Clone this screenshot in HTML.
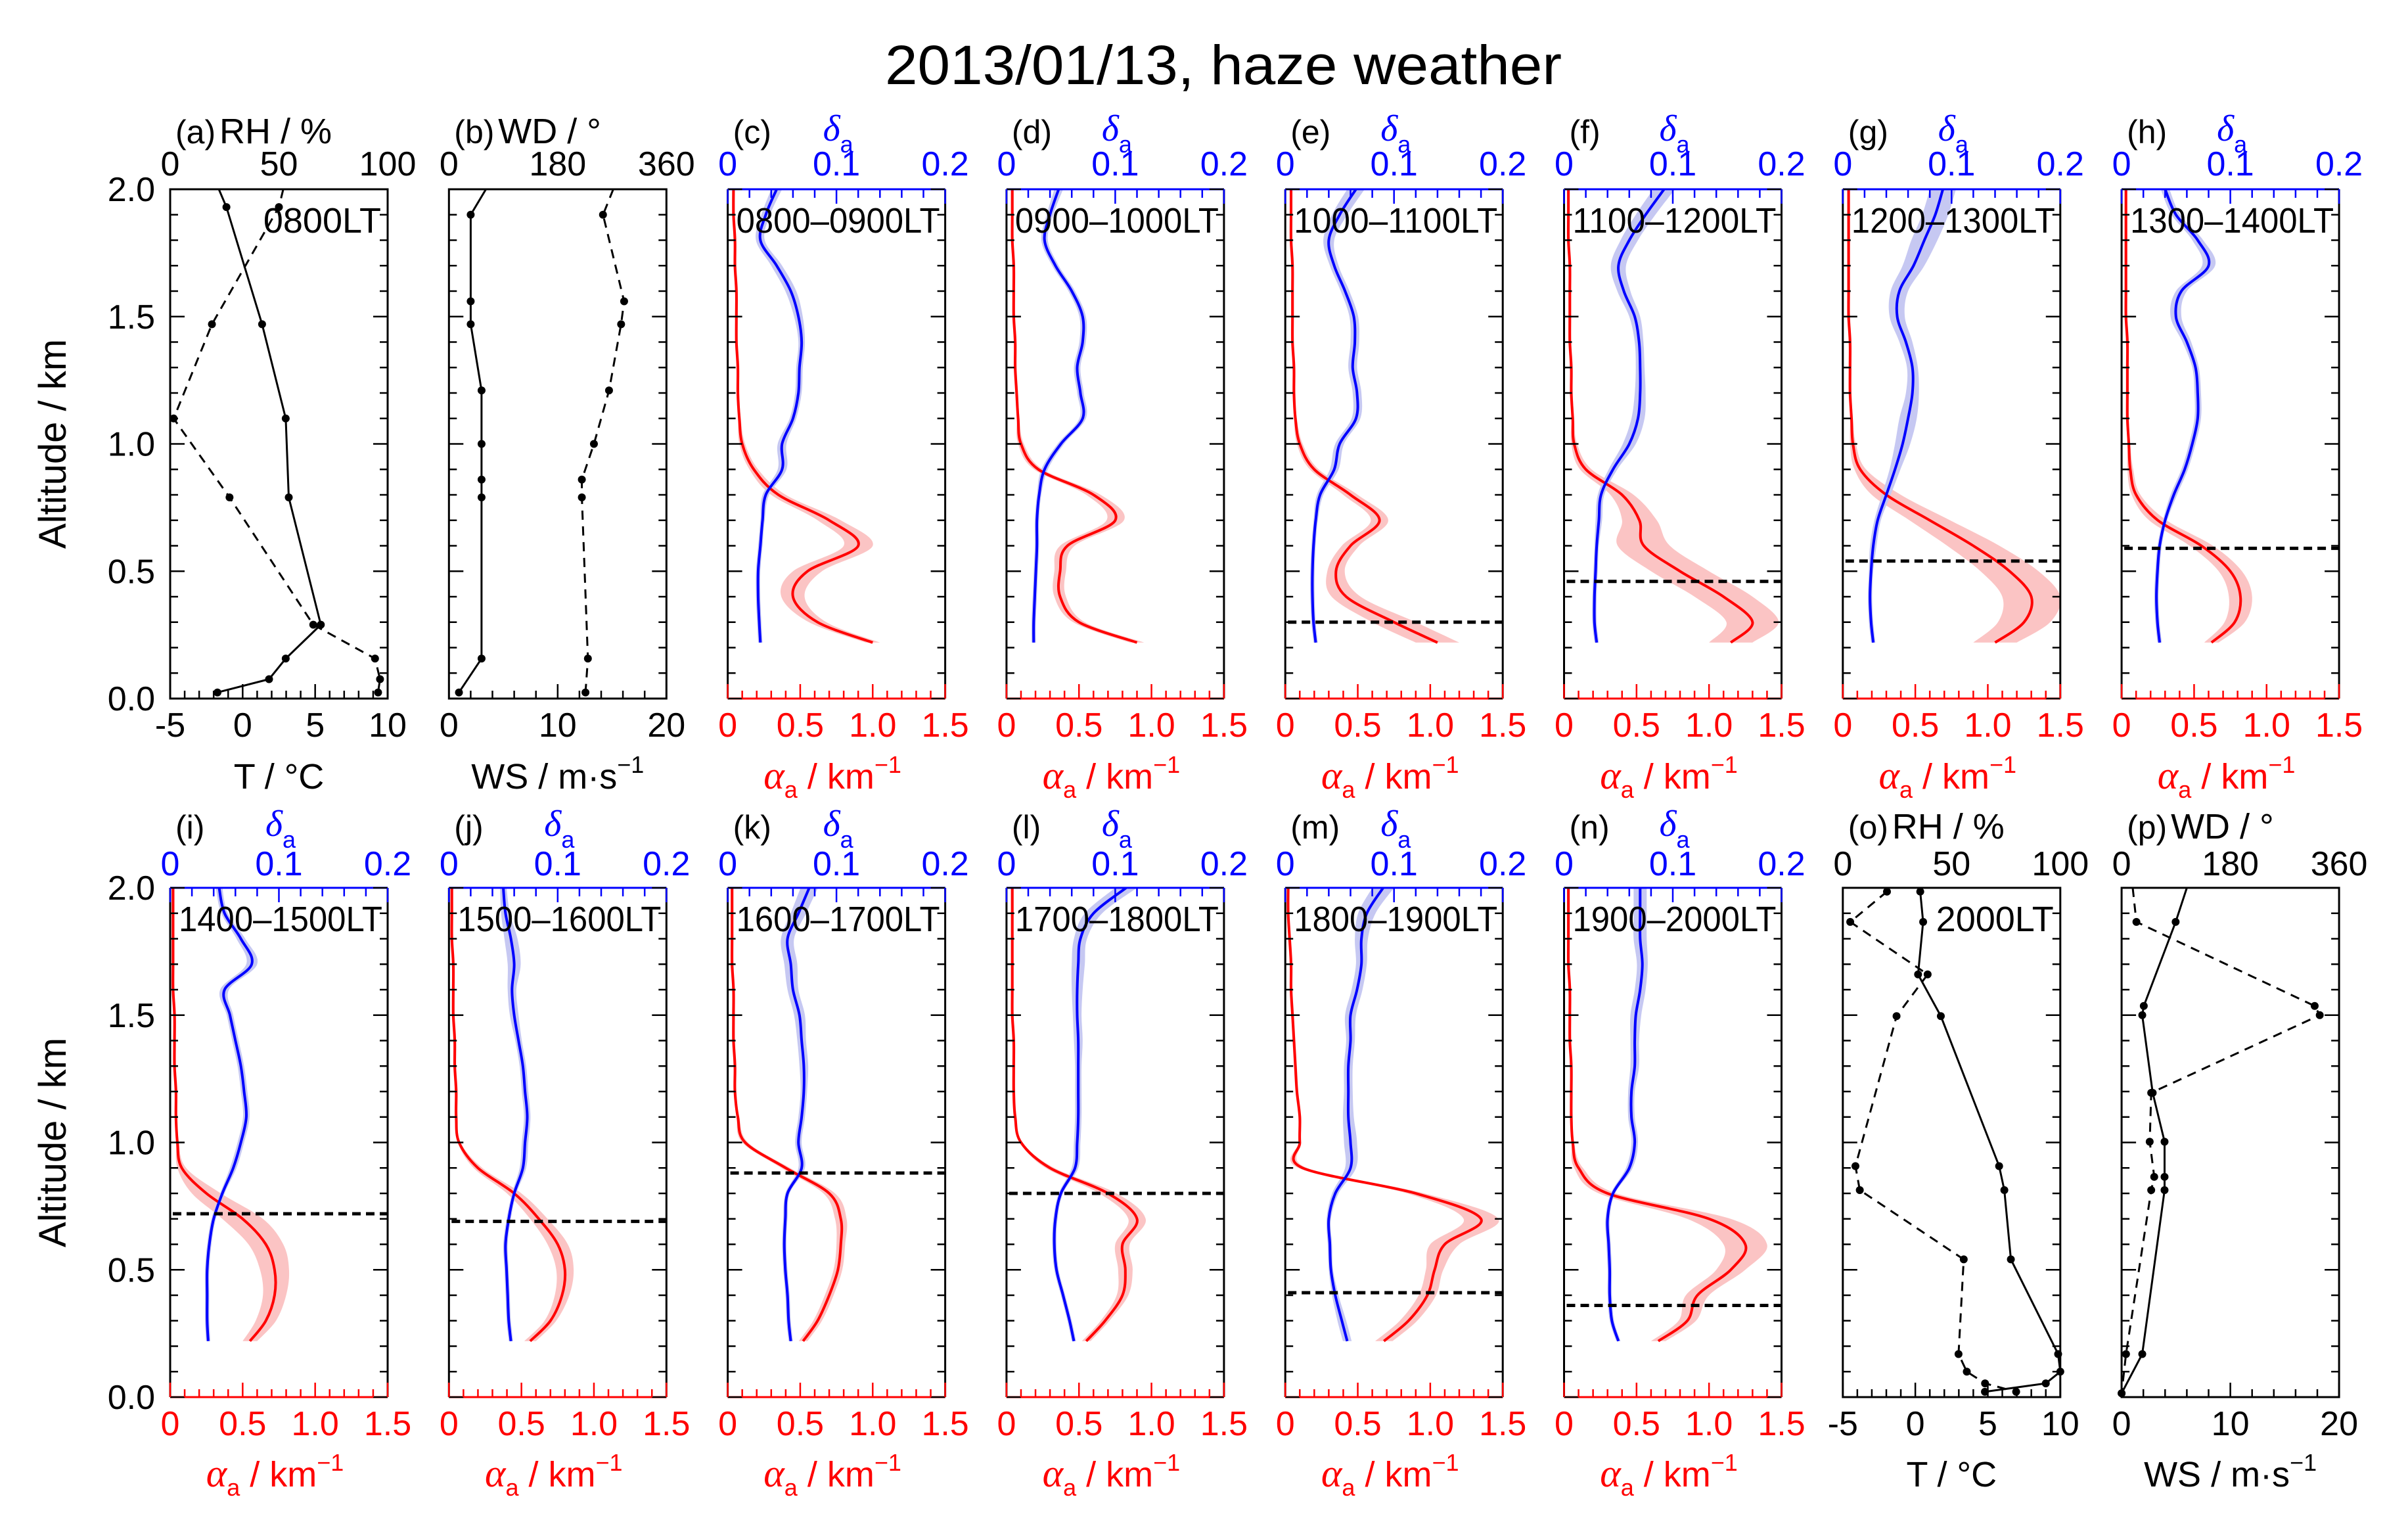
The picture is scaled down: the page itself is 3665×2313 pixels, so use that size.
<!DOCTYPE html>
<html><head><meta charset="utf-8"><style>
html,body{margin:0;padding:0;background:#fff;}
svg{display:block;font-family:"Liberation Sans",sans-serif;}
</style></head><body>
<svg id="fig" xmlns="http://www.w3.org/2000/svg" width="3665" height="2313" viewBox="0 0 3665 2313">
<text x="1862" y="128" font-size="84" text-anchor="middle" textLength="1030" lengthAdjust="spacingAndGlyphs">2013/01/13, haze weather</text>
</svg>
<script>
// ---------- data ----------
const ALT = [0.22,0.3,0.4,0.5,0.6,0.7,0.8,0.9,1.0,1.1,1.2,1.3,1.4,1.5,1.6,1.7,1.8,1.9,2.0];
const panelLetters = ['c','d','e','f','g','h','i','j','k','l','m','n'];
const panelTimes = ['0800–0900LT','0900–1000LT','1000–1100LT','1100–1200LT','1200–1300LT','1300–1400LT','1400–1500LT','1500–1600LT','1600–1700LT','1700–1800LT','1800–1900LT','1900–2000LT'];
const pblHeights = [null,null,0.30,0.46,0.54,0.59,0.72,0.69,0.88,0.80,0.41,0.36];

const alphaC = [1.0,0.62,0.45,0.55,0.9,0.7,0.35,0.18,0.1,0.08,0.07,0.07,0.06,0.06,0.06,0.05,0.05,0.04,0.04];
const alphaD = [0.9,0.5,0.37,0.37,0.42,0.75,0.6,0.22,0.1,0.08,0.07,0.06,0.06,0.05,0.05,0.05,0.04,0.04,0.04];
const alphaE = [1.05,0.75,0.42,0.35,0.45,0.65,0.45,0.2,0.1,0.07,0.06,0.06,0.05,0.05,0.05,0.05,0.04,0.04,0.04];
const alphaF = [1.15,1.3,1.1,0.8,0.55,0.52,0.4,0.15,0.07,0.06,0.05,0.05,0.04,0.04,0.04,0.04,0.03,0.03,0.03];
const alphaG = [1.05,1.25,1.3,1.15,0.9,0.6,0.3,0.12,0.07,0.06,0.05,0.05,0.05,0.04,0.04,0.04,0.04,0.04,0.04];
const alphaH = [0.62,0.78,0.82,0.75,0.55,0.25,0.1,0.06,0.05,0.04,0.04,0.04,0.04,0.03,0.03,0.03,0.03,0.03,0.03];
const alphaI = [0.55,0.66,0.72,0.72,0.66,0.5,0.25,0.08,0.05,0.04,0.04,0.03,0.03,0.03,0.02,0.02,0.02,0.02,0.02];
const alphaJ = [0.56,0.7,0.78,0.8,0.75,0.62,0.45,0.2,0.07,0.05,0.05,0.04,0.04,0.03,0.03,0.03,0.02,0.02,0.02];
const alphaK = [0.52,0.62,0.7,0.76,0.78,0.78,0.7,0.4,0.12,0.07,0.05,0.05,0.04,0.04,0.04,0.03,0.03,0.03,0.03];
const alphaL = [0.55,0.68,0.8,0.82,0.8,0.9,0.7,0.3,0.1,0.06,0.05,0.05,0.05,0.04,0.04,0.04,0.04,0.04,0.04];
const alphaM = [0.68,0.85,0.98,1.03,1.1,1.35,0.9,0.12,0.1,0.1,0.08,0.07,0.06,0.05,0.04,0.04,0.03,0.02,0.02];
const alphaN = [0.65,0.85,0.92,1.15,1.25,1.0,0.3,0.1,0.06,0.05,0.05,0.05,0.04,0.04,0.04,0.03,0.03,0.03,0.03];

const deltaC = [0.03,0.029,0.028,0.028,0.03,0.032,0.035,0.05,0.05,0.06,0.065,0.066,0.068,0.065,0.058,0.045,0.03,0.035,0.045];
const deltaD = [0.025,0.025,0.026,0.027,0.028,0.028,0.03,0.035,0.05,0.07,0.068,0.065,0.07,0.07,0.06,0.045,0.035,0.04,0.048];
const deltaE = [0.028,0.026,0.025,0.025,0.026,0.028,0.032,0.045,0.05,0.065,0.066,0.062,0.064,0.063,0.055,0.045,0.04,0.05,0.065];
const deltaF = [0.03,0.028,0.028,0.029,0.03,0.032,0.034,0.045,0.06,0.068,0.07,0.07,0.069,0.065,0.055,0.05,0.06,0.075,0.092];
const deltaG = [0.028,0.026,0.025,0.026,0.028,0.032,0.04,0.048,0.055,0.06,0.064,0.064,0.058,0.05,0.052,0.065,0.075,0.085,0.092];
const deltaH = [0.035,0.033,0.032,0.033,0.035,0.04,0.048,0.058,0.065,0.07,0.07,0.068,0.06,0.05,0.055,0.08,0.07,0.05,0.04];
const deltaI = [0.035,0.034,0.034,0.034,0.036,0.04,0.048,0.058,0.065,0.07,0.068,0.065,0.06,0.055,0.05,0.075,0.065,0.05,0.045];
const deltaJ = [0.057,0.055,0.054,0.053,0.052,0.055,0.06,0.068,0.07,0.072,0.07,0.068,0.064,0.06,0.058,0.06,0.057,0.052,0.05];
const deltaK = [0.058,0.056,0.055,0.053,0.052,0.053,0.055,0.068,0.065,0.068,0.07,0.07,0.068,0.066,0.06,0.058,0.055,0.065,0.075];
const deltaL = [0.062,0.058,0.052,0.046,0.044,0.045,0.05,0.063,0.065,0.066,0.066,0.066,0.066,0.065,0.065,0.066,0.068,0.08,0.11];
const deltaM = [0.057,0.052,0.046,0.042,0.041,0.04,0.046,0.06,0.06,0.058,0.058,0.058,0.06,0.06,0.066,0.07,0.07,0.075,0.09];
const deltaN = [0.05,0.044,0.042,0.042,0.041,0.04,0.045,0.06,0.065,0.062,0.062,0.065,0.065,0.066,0.07,0.072,0.07,0.07,0.07];

const bandAlphaC = [0.05,0.06,0.08,0.1,0.1,0.08,0.05,0.03,0.02,0.01,0.01,0.01,0.01,0.01,0.01,0.01,0.01,0.01,0.01];
const bandAlphaD = [0.05,0.04,0.04,0.04,0.05,0.06,0.05,0.03,0.02,0.01,0.01,0.01,0.01,0.01,0.01,0.01,0.01,0.01,0.01];
const bandAlphaE = [0.15,0.15,0.1,0.06,0.06,0.06,0.05,0.03,0.02,0.01,0.01,0.01,0.01,0.01,0.01,0.01,0.01,0.01,0.01];
const bandAlphaF = [0.15,0.18,0.2,0.2,0.18,0.12,0.08,0.04,0.02,0.01,0.01,0.01,0.01,0.01,0.01,0.01,0.01,0.01,0.01];
const bandAlphaG = [0.15,0.18,0.2,0.2,0.18,0.14,0.1,0.04,0.02,0.01,0.01,0.01,0.01,0.01,0.01,0.01,0.01,0.01,0.01];
const bandAlphaH = [0.05,0.07,0.08,0.08,0.08,0.06,0.03,0.02,0.01,0.01,0.01,0.01,0.01,0.01,0.01,0.01,0.01,0.01,0.01];
const bandAlphaI = [0.05,0.07,0.08,0.1,0.12,0.14,0.1,0.03,0.01,0.01,0.01,0.01,0.01,0.01,0.01,0.01,0.01,0.01,0.01];
const bandAlphaJ = [0.04,0.04,0.05,0.06,0.07,0.06,0.05,0.03,0.01,0.01,0.01,0.01,0.01,0.01,0.01,0.01,0.01,0.01,0.01];
const bandAlphaK = [0.03,0.03,0.03,0.03,0.03,0.04,0.04,0.03,0.02,0.01,0.01,0.01,0.01,0.01,0.01,0.01,0.01,0.01,0.01];
const bandAlphaL = [0.03,0.03,0.04,0.05,0.05,0.06,0.06,0.03,0.01,0.01,0.01,0.01,0.01,0.01,0.01,0.01,0.01,0.01,0.01];
const bandAlphaM = [0.06,0.06,0.06,0.06,0.1,0.12,0.06,0.03,0.01,0.01,0.01,0.01,0.01,0.01,0.01,0.01,0.01,0.01,0.01];
const bandAlphaN = [0.05,0.06,0.08,0.1,0.15,0.15,0.06,0.03,0.01,0.01,0.01,0.01,0.01,0.01,0.01,0.01,0.01,0.01,0.01];

const bandDeltaC = [0.002,0.002,0.002,0.002,0.002,0.002,0.003,0.004,0.004,0.003,0.003,0.003,0.003,0.004,0.005,0.005,0.004,0.004,0.005];
const bandDeltaD = [0.002,0.002,0.002,0.002,0.002,0.002,0.002,0.003,0.003,0.003,0.003,0.003,0.003,0.003,0.003,0.003,0.003,0.003,0.004];
const bandDeltaE = [0.002,0.002,0.002,0.002,0.002,0.002,0.003,0.004,0.004,0.004,0.004,0.004,0.004,0.004,0.004,0.004,0.005,0.007,0.008];
const bandDeltaF = [0.002,0.002,0.002,0.002,0.002,0.003,0.003,0.004,0.006,0.006,0.005,0.004,0.004,0.005,0.006,0.007,0.008,0.009,0.01];
const bandDeltaG = [0.002,0.002,0.002,0.002,0.003,0.003,0.004,0.005,0.007,0.008,0.006,0.005,0.006,0.007,0.008,0.01,0.012,0.012,0.012];
const bandDeltaH = [0.002,0.002,0.002,0.002,0.002,0.002,0.003,0.003,0.003,0.003,0.003,0.003,0.004,0.005,0.005,0.006,0.005,0.004,0.004];
const bandDeltaI = [0.002,0.002,0.002,0.002,0.002,0.002,0.002,0.003,0.003,0.003,0.003,0.003,0.003,0.003,0.004,0.005,0.004,0.003,0.003];
const bandDeltaJ = [0.002,0.002,0.002,0.002,0.002,0.002,0.002,0.003,0.003,0.003,0.003,0.003,0.003,0.004,0.004,0.006,0.006,0.004,0.003];
const bandDeltaK = [0.002,0.002,0.002,0.002,0.002,0.002,0.002,0.003,0.003,0.003,0.003,0.004,0.004,0.005,0.005,0.006,0.006,0.007,0.008];
const bandDeltaL = [0.002,0.002,0.002,0.002,0.002,0.002,0.002,0.003,0.003,0.003,0.003,0.003,0.004,0.004,0.005,0.006,0.006,0.008,0.01];
const bandDeltaM = [0.004,0.004,0.003,0.002,0.002,0.002,0.003,0.005,0.006,0.005,0.004,0.004,0.004,0.005,0.005,0.005,0.006,0.008,0.01];
const bandDeltaN = [0.002,0.002,0.002,0.002,0.002,0.002,0.002,0.003,0.003,0.003,0.003,0.004,0.004,0.005,0.005,0.005,0.006,0.006,0.006];

const alphaSeries = [alphaC,alphaD,alphaE,alphaF,alphaG,alphaH,alphaI,alphaJ,alphaK,alphaL,alphaM,alphaN];
const deltaSeries = [deltaC,deltaD,deltaE,deltaF,deltaG,deltaH,deltaI,deltaJ,deltaK,deltaL,deltaM,deltaN];
const bandAlphaSeries = [bandAlphaC,bandAlphaD,bandAlphaE,bandAlphaF,bandAlphaG,bandAlphaH,bandAlphaI,bandAlphaJ,bandAlphaK,bandAlphaL,bandAlphaM,bandAlphaN];
const bandDeltaSeries = [bandDeltaC,bandDeltaD,bandDeltaE,bandDeltaF,bandDeltaG,bandDeltaH,bandDeltaI,bandDeltaJ,bandDeltaK,bandDeltaL,bandDeltaM,bandDeltaN];

// radiosonde 0800LT
const sondeAltA = [2.0,1.93,1.47,1.10,0.79,0.29,0.157,0.076,0.024];
const tempA = [-1.64,-1.12,1.34,2.97,3.18,5.39,2.97,1.82,-1.74];
const rhA = [52,50,19.2,1.6,27.3,65.8,94.2,96.5,95.6];
const sondeAltB = [2.0,1.90,1.56,1.47,1.21,1.0,0.86,0.79,0.157,0.024];
const wsB = [3.4,2.0,2.0,2.0,3.0,3.0,3.0,3.0,3.0,0.92];
const wdB = [272,255,290,285,265,240,220,220,230,226];
// radiosonde 2000LT
const sondeAltO = [1.985,1.866,1.66,1.496,0.907,0.813,0.541,0.169,0.10,0.054,0.021];
const tempO = [0.34,0.54,0.19,1.76,5.78,6.14,6.59,9.85,10.0,9.0,4.8];
const rhO = [20.3,3.4,39,24.7,5.8,7.8,55.6,53.2,57,65.4,79.7];
const sondeAltP = [2.0,1.866,1.536,1.50,1.195,1.003,0.865,0.813,0.169,0.015];
const wsP = [6.0,4.97,2.04,1.9,2.86,3.95,3.95,3.95,1.9,0.0];
const wdP = [18.4,24.5,319.6,328,49,46.5,54,49,7.3,0.0];

const altTicks = ['0.0','0.5','1.0','1.5','2.0'];
const alphaTickLabels = ['0','0.5','1.0','1.5'];
const deltaTickLabels = ['0','0.1','0.2'];

// ---------- layout ----------
const NS = 'http://www.w3.org/2000/svg';
const svg = document.getElementById('fig');
const PX0 = 259, PDX = 424.3, PW = 331;
const ROWS = [{top:288,bot:1063},{top:1351,bot:2126}];
const SANS = '"Liberation Sans", sans-serif';
const SERIF = '"Liberation Serif", serif';

function mk(tag, parent){ const e = document.createElementNS(NS, tag); (parent||svg).appendChild(e); return e; }
function setA(e, obj){ for (const k in obj) e.setAttribute(k, obj[k]); return e; }

function smoothPath(pts){
  let d = 'M' + pts[0][0].toFixed(1) + ',' + pts[0][1].toFixed(1);
  for (let i=0;i<pts.length-1;i++){
    const p0 = pts[Math.max(0,i-1)], p1 = pts[i], p2 = pts[i+1], p3 = pts[Math.min(pts.length-1,i+2)];
    const c1 = [p1[0]+(p2[0]-p0[0])/6, p1[1]+(p2[1]-p0[1])/6];
    const c2 = [p2[0]-(p3[0]-p1[0])/6, p2[1]-(p3[1]-p1[1])/6];
    d += 'C'+c1[0].toFixed(1)+','+c1[1].toFixed(1)+' '+c2[0].toFixed(1)+','+c2[1].toFixed(1)+' '+p2[0].toFixed(1)+','+p2[1].toFixed(1);
  }
  return d;
}
function polyPath(pts){ return 'M'+pts.map(p=>p[0].toFixed(1)+','+p[1].toFixed(1)).join('L'); }

function panelBox(col,row){ const left = PX0 + col*PDX; return {left, right:left+PW, top:ROWS[row].top, bot:ROWS[row].bot}; }

function addText(g, x, y, str, size, fill, anchor){
  const t = mk('text', g);
  setA(t, {x, y, 'font-size':size, fill, 'text-anchor':anchor||'middle', 'font-family':SANS});
  t.textContent = str;
  return t;
}

function altAxis(g, b, yScale){
  for (let k=0;k<=20;k++){
    const y = yScale(k/10), len = (k%5===0)?22:12;
    const t1 = mk('line', g);
    setA(t1, {x1:b.left, x2:b.left+len, y1:y, y2:y, stroke:'#000','stroke-width':2.5});
    
    
    const t2 = mk('line', g);
    setA(t2, {x1:b.right, x2:b.right-len, y1:y, y2:y, stroke:'#000','stroke-width':2.5});
    
    
  }
}

function yLabels(row){
  const b = panelBox(0,row);
  const yScale = a => b.bot - a/2*(b.bot-b.top);
  altTicks.forEach(s=>{
    const t = addText(svg, 236, yScale(parseFloat(s))+18, s, 52, '#000', 'end');
    
    
  });
  const cy = (b.top+b.bot)/2;
  const t = addText(svg, 0, 0, 'Altitude / km', 58, '#000', 'middle');
  t.setAttribute('transform', 'translate(100,'+cy+') rotate(-90)');
  
  
}

function lidarPanel(idx){
  const col = idx<6 ? idx+2 : idx-6, row = idx<6 ? 0 : 1;
  const b = panelBox(col,row);
  const g = mk('g');
  
  
  const xA = v => b.left + v/1.5*PW;
  const xD = v => b.left + v/0.2*PW;
  const yS = a => b.bot - a/2*(b.bot-b.top);
  const clip = mk('clipPath', g); clip.setAttribute('id','clip'+idx);
  const cr = mk('rect', clip); setA(cr,{x:b.left,y:b.top,width:PW,height:b.bot-b.top});
  const pg = mk('g', g); pg.setAttribute('clip-path','url(#clip'+idx+')');
  
  
  const al = alphaSeries[idx], de = deltaSeries[idx], ba = bandAlphaSeries[idx], bd = bandDeltaSeries[idx];
  const aHi = ALT.map((a,i)=>[xA(al[i]+ba[i]), yS(a)]);
  const aLo = ALT.map((a,i)=>[xA(Math.max(0,al[i]-ba[i])), yS(a)]);
  const bandA = mk('path', pg);
  setA(bandA, {d: smoothPath(aHi) + smoothPath(aLo.slice().reverse()).replace('M','L') + 'Z', fill:'#fbc4c4', stroke:'none'});
  
  
  const dHi = ALT.map((a,i)=>[xD(de[i]+bd[i]), yS(a)]);
  const dLo = ALT.map((a,i)=>[xD(de[i]-bd[i]), yS(a)]);
  const bandD = mk('path', pg);
  setA(bandD, {d: smoothPath(dHi) + smoothPath(dLo.slice().reverse()).replace('M','L') + 'Z', fill:'#c6c8f2', stroke:'none'});
  
  
  const lineA = mk('path', pg);
  setA(lineA, {d: smoothPath(ALT.map((a,i)=>[xA(al[i]), yS(a)])), fill:'none', stroke:'#ff0000','stroke-width':4});
  
  
  const lineD = mk('path', pg);
  setA(lineD, {d: smoothPath(ALT.map((a,i)=>[xD(de[i]), yS(a)])), fill:'none', stroke:'#0000ff','stroke-width':4});
  
  
  const fl = mk('line', g); setA(fl,{x1:b.left,x2:b.left,y1:b.top,y2:b.bot,stroke:'#000','stroke-width':3});
   
  const fr = mk('line', g); setA(fr,{x1:b.right,x2:b.right,y1:b.top,y2:b.bot,stroke:'#000','stroke-width':3});
   
  const ft = mk('line', g); setA(ft,{x1:b.left,x2:b.right,y1:b.top,y2:b.top,stroke:'#0000ff','stroke-width':3});
   
  const fb = mk('line', g); setA(fb,{x1:b.left,x2:b.right,y1:b.bot,y2:b.bot,stroke:'#ff0000','stroke-width':3});
   
  altAxis(g, b, yS);
  for (let k=0;k<=15;k++){
    const x = xA(k/10), len = (k%5===0)?22:12;
    const t = mk('line', g); setA(t,{x1:x,x2:x,y1:b.bot,y2:b.bot-len,stroke:'#ff0000','stroke-width':2.5});
     
  }
  for (let k=0;k<=10;k++){
    const x = xD(k*0.02), len = (k%5===0)?22:13;
    const t = mk('line', g); setA(t,{x1:x,x2:x,y1:b.top,y2:b.top+len,stroke:'#0000ff','stroke-width':2.5});
     
  }
  if (pblHeights[idx] !== null){
    const y = yS(pblHeights[idx]);
    const pl = mk('line', g); setA(pl,{x1:b.left+4,x2:b.right+2,y1:y,y2:y,stroke:'#000','stroke-width':5,'stroke-dasharray':'13,8'});
     
  }
  const tl = addText(g, b.left+13, b.top+66, panelTimes[idx], 54, '#000', 'start');
  tl.setAttribute('textLength', 310); tl.setAttribute('lengthAdjust','spacingAndGlyphs');
   
  const ty = row===0 ? 267 : 1332, by = row===0 ? 1121 : 2184, titleY = row===0 ? 1200 : 2262, lblY = row===0 ? 218 : 1276;
  deltaTickLabels.forEach(s=>{
    const t = addText(g, xD(parseFloat(s)), ty, s, 52, '#0000ff', 'middle');
     
  });
  alphaTickLabels.forEach(s=>{
    const t = addText(g, xA(parseFloat(s)), by, s, 52, '#ff0000', 'middle');
     
  });
  const pl = addText(g, b.left+8, lblY, '('+panelLetters[idx]+')', 50, '#000', 'start');
   
  const dl = mk('text', g);
  setA(dl, {x:b.left+145, y:lblY-4, 'font-size':56, fill:'#0000ff', 'font-family':SERIF, 'font-style':'italic'});
  dl.innerHTML = 'δ<tspan font-style="normal" font-family=\'"Liberation Sans", sans-serif\' font-size="36" dy="18">a</tspan>';
   
  const at = mk('text', g);
  setA(at, {x:b.left+PW/2-6, y:titleY, 'font-size':54, fill:'#ff0000', 'text-anchor':'middle', 'font-family':SANS});
  at.innerHTML = '<tspan font-family=\'"Liberation Serif", serif\' font-style="italic" font-size="60">α</tspan><tspan font-size="36" dy="14">a</tspan><tspan dy="-14"> / km</tspan><tspan font-size="36" dy="-24">−1</tspan>';
   
}

function sondePanel(col,row,letter,alts,solid,solidMin,solidMax,dashed,dashMax,botLabels,topLabels,topTitle,botTitle,timeLbl,dashAlts){
  const b = panelBox(col,row);
  const g = mk('g');
  
  
  const xS = v => b.left + (v-solidMin)/(solidMax-solidMin)*PW;
  const xD = v => b.left + v/dashMax*PW;
  const yS = a => b.bot - a/2*(b.bot-b.top);
  const fr = mk('rect', g); setA(fr,{x:b.left,y:b.top,width:PW,height:b.bot-b.top,fill:'none',stroke:'#000','stroke-width':3});
   
  altAxis(g, b, yS);
  const nT = (solidMax-solidMin);
  const step = nT===15 ? 1 : 2;
  for (let v=solidMin; v<=solidMax+1e-6; v+=step){
    const len = (Math.abs(v%5)<1e-6 && step===1) || (step===2 && Math.abs(v%10)<1e-6) ? 22 : 12;
    const t = mk('line', g); setA(t,{x1:xS(v),x2:xS(v),y1:b.bot,y2:b.bot-len,stroke:'#000','stroke-width':2.5});
     
  }
  const solidPts = alts.map((a,i)=>[xS(solid[i]), yS(a)]);
  const dashPts = dashAlts.map((a,i)=>[xD(dashed[i]), yS(a)]);
  const sl = mk('path', g); setA(sl,{d:polyPath(solidPts),fill:'none',stroke:'#000','stroke-width':3});
   
  const dl = mk('path', g); setA(dl,{d:polyPath(dashPts),fill:'none',stroke:'#000','stroke-width':3,'stroke-dasharray':'14,10'});
   
  solidPts.forEach((p,i)=>{ if (alts[i] < 1.995){ const c = mk('circle', g); setA(c,{cx:p[0],cy:p[1],r:6,fill:'#000'});
      }});
  dashPts.forEach((p,i)=>{ if (dashAlts[i] < 1.995){ const c = mk('circle', g); setA(c,{cx:p[0],cy:p[1],r:6,fill:'#000'});
      }});
  const ty = row===0 ? 267 : 1332, by = row===0 ? 1121 : 2184, titleY = row===0 ? 1200 : 2262, lblY = row===0 ? 218 : 1276;
  botLabels.forEach(s=>{
    const t = addText(g, xS(parseFloat(s)), by, s, 52, '#000', 'middle');
     
  });
  topLabels.forEach(s=>{
    const t = addText(g, xD(parseFloat(s)), ty, s, 52, '#000', 'middle');
     
  });
  const pl = addText(g, b.left+8, lblY, '('+letter+')', 50, '#000', 'start');
   
  const tt = addText(g, b.left+75, lblY, topTitle, 54, '#000', 'start');
   
  const bt = mk('text', g);
  setA(bt, {x:b.left+PW/2, y:titleY, 'font-size':54, fill:'#000','text-anchor':'middle','font-family':SANS});
  bt.innerHTML = botTitle;
   
  if (timeLbl){
    const tl = addText(g, b.right-10, b.top+66, timeLbl, 54, '#000', 'end');
     
  }
}

yLabels(0); yLabels(1);
sondePanel(0,0,'a',sondeAltA,tempA,-5,10,rhA,100,['-5','0','5','10'],['0','50','100'],'RH / %','T / °C','0800LT',sondeAltA);
sondePanel(1,0,'b',sondeAltB,wsB,0,20,wdB,360,['0','10','20'],['0','180','360'],'WD / °','WS / m·s<tspan font-size="36" dy="-24">−1</tspan>',null,sondeAltB);
sondePanel(6,1,'o',sondeAltO,tempO,-5,10,rhO,100,['-5','0','5','10'],['0','50','100'],'RH / %','T / °C','2000LT',sondeAltO);
sondePanel(7,1,'p',sondeAltP,wsP,0,20,wdP,360,['0','10','20'],['0','180','360'],'WD / °','WS / m·s<tspan font-size="36" dy="-24">−1</tspan>',null,sondeAltP);
for (let i=0;i<12;i++) lidarPanel(i);
</script>
</body></html>
